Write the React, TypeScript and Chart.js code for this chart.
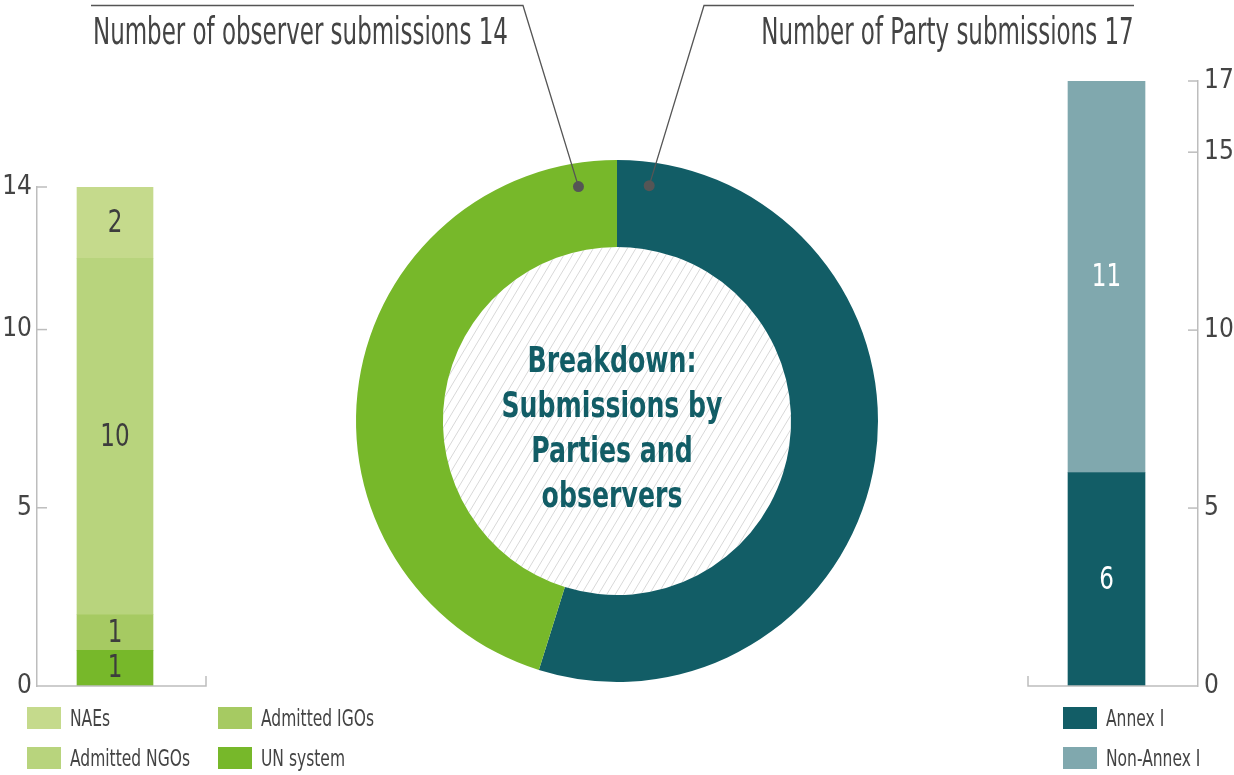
import React, { useEffect, useRef } from "react";
import { Chart, registerables } from "chart.js";
Chart.register(...registerables);

const FONT = '"Liberation Sans Narrow", "DejaVu Sans Condensed", "Roboto Condensed", Arial, sans-serif';

// Observer submissions (stacked bottom -> top)
const observerCategories = ["UN system", "Admitted IGOs", "Admitted NGOs", "NAEs"];
const observerValues = [1, 1, 10, 2];
const observerColors = ["#77b82a", "#a6ca62", "#b8d47d", "#c5da8c"];
const observerTicks = [0, 5, 10, 14];

// Party submissions (stacked bottom -> top)
const partyCategories = ["Annex I", "Non-Annex I"];
const partyValues = [6, 11];
const partyColors = ["#125d66", "#80a8ae"];
const partyTicks = [0, 5, 10, 15, 17];

// Doughnut totals
const totalLabels = ["Number of Party submissions", "Number of observer submissions"];
const totalValues = [17, 14];
const totalColors = ["#125d66", "#77b82a"];

const centerLines = ["Breakdown:", "Submissions by", "Parties and", "observers"];

// Legend order as laid out in the picture
const observerLegend = ["NAEs", "Admitted IGOs", "Admitted NGOs", "UN system"];

const W = 1234;
const H = 775;
const AXIS = "#bdbdbd";
const TEXT = "#444444";

function barConfig(p: {
  cats: string[];
  values: number[];
  colors: string[];
  ticks: number[];
  side: "left" | "right";
  padding: { left: number; right: number; top: number; bottom: number };
  axisWidth: number;
  barWidth: number;
  labelColor: string;
  tickPadding: number;
}) {
  const max = p.ticks[p.ticks.length - 1];
  const plugin = {
    id: "barDecor" + p.side,
    afterDraw(chart: any) {
      const { ctx, chartArea } = chart;
      const yScale = chart.scales.y;
      ctx.save();
      ctx.strokeStyle = AXIS;
      ctx.lineWidth = 1.5;
      const y0 = yScale.getPixelForValue(0);
      ctx.beginPath();
      if (p.side === "left") {
        const xEnd = chartArea.right + 13;
        ctx.moveTo(chartArea.left, y0);
        ctx.lineTo(xEnd, y0);
        ctx.lineTo(xEnd, y0 - 10);
      } else {
        const xStart = chartArea.left + 13;
        ctx.moveTo(chartArea.right, y0);
        ctx.lineTo(xStart, y0);
        ctx.lineTo(xStart, y0 - 10);
      }
      ctx.stroke();
      p.ticks.forEach((t) => {
        if (t === 0) return;
        const y = yScale.getPixelForValue(t);
        ctx.beginPath();
        if (p.side === "left") {
          ctx.moveTo(chartArea.left, y);
          ctx.lineTo(chartArea.left + 10, y);
        } else {
          ctx.moveTo(chartArea.right, y);
          ctx.lineTo(chartArea.right - 10, y);
        }
        ctx.stroke();
      });
      ctx.fillStyle = p.labelColor;
      ctx.font = `32px ${FONT}`;
      ctx.textAlign = "center";
      ctx.textBaseline = "middle";
      chart.data.datasets.forEach((ds: any, i: number) => {
        const meta = chart.getDatasetMeta(i);
        meta.data.forEach((bar: any) => {
          const props = bar.getProps(["x", "y", "base"], true);
          ctx.save();
          ctx.translate(props.x, (props.y + props.base) / 2 + 1);
          ctx.scale(0.8, 1);
          ctx.fillText(String(ds.data[0]), 0, 0);
          ctx.restore();
        });
      });
      ctx.restore();
    },
  };
  return {
    type: "bar" as const,
    data: {
      labels: [""],
      datasets: p.cats.map((c, i) => ({
        label: c,
        data: [p.values[i]],
        backgroundColor: p.colors[i],
        borderWidth: 0,
        barThickness: p.barWidth,
      })),
    },
    options: {
      responsive: false,
      animation: false,
      layout: { padding: p.padding },
      plugins: { legend: { display: false }, tooltip: { enabled: false } },
      scales: {
        x: { display: false, stacked: true },
        y: {
          stacked: true,
          min: 0,
          max,
          position: p.side,
          afterBuildTicks: (s: any) => {
            s.ticks = p.ticks.map((v) => ({ value: v }));
          },
          afterFit: (s: any) => {
            s.width = p.axisWidth;
          },
          grid: { display: false, drawTicks: false },
          border: { display: true, color: AXIS, width: 1.5 },
          ticks: {
            font: { family: FONT, size: 26 },
            color: TEXT,
            padding: p.tickPadding,
          },
        },
      },
    },
    plugins: [plugin],
  };
}

function doughnutConfig() {
  const plugin = {
    id: "doughnutDecor",
    beforeDatasetsDraw(chart: any) {
      const meta = chart.getDatasetMeta(0);
      const arc = meta.data[0];
      if (!arc) return;
      const { x, y, innerRadius } = arc.getProps(["x", "y", "innerRadius"], true);
      const ctx = chart.ctx;
      ctx.save();
      ctx.beginPath();
      ctx.arc(x, y, innerRadius, 0, Math.PI * 2);
      ctx.fillStyle = "#ffffff";
      ctx.fill();
      ctx.clip();
      ctx.strokeStyle = "#d8d8d8";
      ctx.lineWidth = 1;
      const R = innerRadius;
      const t = 0.6;
      for (let k = -R * 2; k <= R * 2; k += 8.5) {
        ctx.beginPath();
        ctx.moveTo(x + k - R * t, y + R);
        ctx.lineTo(x + k + R * t, y - R);
        ctx.stroke();
      }
      ctx.restore();
    },
    afterDraw(chart: any) {
      const meta = chart.getDatasetMeta(0);
      const ctx = chart.ctx;
      const party = meta.data[0];
      const obs = meta.data[1];
      if (!party || !obs) return;
      const pp = party.getProps(["x", "y", "innerRadius", "outerRadius", "startAngle", "endAngle"], true);
      const op = obs.getProps(["x", "y", "innerRadius", "outerRadius", "startAngle", "endAngle"], true);
      const rr = (a: any) => a.innerRadius + 0.73 * (a.outerRadius - a.innerRadius);
      const pa = pp.startAngle + 0.136;
      const oa = op.endAngle - 0.163;
      const pDot = { x: pp.x + Math.cos(pa) * rr(pp), y: pp.y + Math.sin(pa) * rr(pp) };
      const oDot = { x: op.x + Math.cos(oa) * rr(op), y: op.y + Math.sin(oa) * rr(op) };
      ctx.save();
      ctx.strokeStyle = "#555555";
      ctx.lineWidth = 1.3;
      ctx.beginPath();
      ctx.moveTo(oDot.x, oDot.y);
      ctx.lineTo(523, 5.5);
      ctx.lineTo(91, 5.5);
      ctx.stroke();
      ctx.beginPath();
      ctx.moveTo(pDot.x, pDot.y);
      ctx.lineTo(704, 5.5);
      ctx.lineTo(1134, 5.5);
      ctx.stroke();
      ctx.fillStyle = "#555555";
      [pDot, oDot].forEach((d) => {
        ctx.beginPath();
        ctx.arc(d.x, d.y, 5.5, 0, Math.PI * 2);
        ctx.fill();
      });
      ctx.restore();
    },
  };
  return {
    type: "doughnut" as const,
    data: {
      labels: totalLabels,
      datasets: [
        {
          data: totalValues,
          backgroundColor: totalColors,
          borderWidth: 0,
        },
      ],
    },
    options: {
      responsive: false,
      animation: false,
      rotation: 0,
      cutout: "66.7%",
      layout: { padding: { top: 160, bottom: 93, left: 300, right: 300 } },
      plugins: { legend: { display: false }, tooltip: { enabled: false } },
    },
    plugins: [plugin],
  };
}

function ChartCanvas({ make }: { make: () => any }) {
  const ref = useRef<HTMLCanvasElement | null>(null);
  useEffect(() => {
    if (!ref.current) return;
    const chart = new Chart(ref.current, make());
    return () => chart.destroy();
  }, []);
  return (
    <canvas
      ref={ref}
      width={W}
      height={H}
      style={{ position: "absolute", left: 0, top: 0, width: W, height: H }}
    />
  );
}

function Swatch({ color, label, x, y }: { color: string; label: string; x: number; y: number }) {
  return (
    <div style={{ position: "absolute", left: x, top: y, display: "flex", alignItems: "center", whiteSpace: "nowrap" }}>
      <div style={{ width: 34, height: 22, background: color }} />
      <span
        style={{
          marginLeft: 9,
          fontSize: 23,
          color: TEXT,
          fontFamily: FONT,
          lineHeight: "22px",
          display: "inline-block",
          transform: "scaleX(0.75)",
          transformOrigin: "left center",
        }}
      >
        {label}
      </span>
    </div>
  );
}

export default function App() {
  const obsColor = (name: string) => observerColors[observerCategories.indexOf(name)];
  return (
    <div
      style={{
        position: "fixed",
        left: 0,
        top: 0,
        width: W,
        height: H,
        background: "#ffffff",
        overflow: "hidden",
        fontFamily: FONT,
      }}
    >
      <ChartCanvas make={doughnutConfig} />
      <ChartCanvas
        make={() =>
          barConfig({
            cats: observerCategories,
            values: observerValues,
            colors: observerColors,
            ticks: observerTicks,
            side: "left",
            padding: { left: 0, right: W - 193, top: 187, bottom: H - 686 },
            axisWidth: 37,
            barWidth: 76,
            labelColor: "#3d3d3d",
            tickPadding: 5,
          })
        }
      />
      <ChartCanvas
        make={() =>
          barConfig({
            cats: partyCategories,
            values: partyValues,
            colors: partyColors,
            ticks: partyTicks,
            side: "right",
            padding: { left: 1015, right: 0, top: 81, bottom: H - 686 },
            axisWidth: 36,
            barWidth: 77,
            labelColor: "#ffffff",
            tickPadding: 6,
          })
        }
      />
      <div
        style={{
          position: "absolute",
          left: 93,
          top: 12,
          fontSize: 37,
          lineHeight: "40px",
          color: TEXT,
          whiteSpace: "nowrap",
          transform: "scaleX(0.69)",
          transformOrigin: "left center",
        }}
      >
        {totalLabels[1]} {totalValues[1]}
      </div>
      <div
        style={{
          position: "absolute",
          right: W - 1134,
          top: 12,
          fontSize: 37,
          lineHeight: "40px",
          color: TEXT,
          whiteSpace: "nowrap",
          textAlign: "right",
          transform: "scaleX(0.69)",
          transformOrigin: "right center",
        }}
      >
        {totalLabels[0]} {totalValues[0]}
      </div>
      <div
        style={{
          position: "absolute",
          left: 462,
          width: 300,
          top: 338,
          textAlign: "center",
          fontSize: 35,
          fontWeight: "bold",
          lineHeight: "45px",
          color: "#125d66",
          transform: "scaleX(0.8)",
          transformOrigin: "center center",
          whiteSpace: "nowrap",
        }}
      >
        {centerLines.map((l, i) => (
          <div key={i}>{l}</div>
        ))}
      </div>
      <Swatch color={obsColor(observerLegend[0])} label={observerLegend[0]} x={27} y={707} />
      <Swatch color={obsColor(observerLegend[1])} label={observerLegend[1]} x={218} y={707} />
      <Swatch color={obsColor(observerLegend[2])} label={observerLegend[2]} x={27} y={747} />
      <Swatch color={obsColor(observerLegend[3])} label={observerLegend[3]} x={218} y={747} />
      <Swatch color={partyColors[0]} label={partyCategories[0]} x={1063} y={707} />
      <Swatch color={partyColors[1]} label={partyCategories[1]} x={1063} y={747} />
    </div>
  );
}
